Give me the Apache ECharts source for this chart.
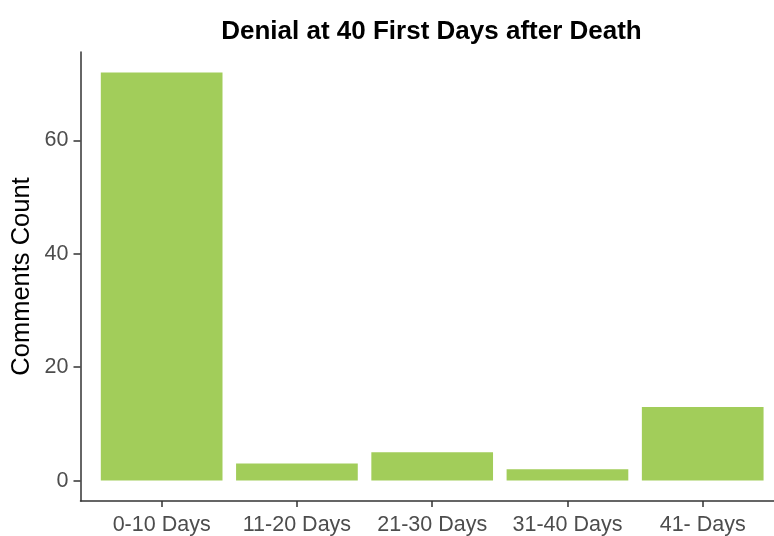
<!DOCTYPE html>
<html>
<head>
<meta charset="utf-8">
<script src="https://cdn.jsdelivr.net/npm/echarts@6/dist/echarts.min.js"></script>
<style>
  html, body { margin: 0; padding: 0; background: #fff; }
  #chart { width: 774px; height: 536px; }
</style>
</head>
<body>
<div id="chart"></div>
<script>
const categories = ['0-10 Days', '11-20 Days', '21-30 Days', '31-40 Days', '41- Days'];
const counts = [72, 3, 5, 2, 13];
const yTicks = [0, 20, 40, 60];

const chart = echarts.init(document.getElementById('chart'));

// x is a value axis so the ggplot-style 0.6 padding on the left can be kept;
// the panel runs past the right edge of the picture, so max is cut at the edge
const xIdx = categories.map((_, i) => i);

const option = {
  animation: false,
  title: {
    text: 'Denial at 40 First Days after Death',
    left: 426.5,
    top: 14,
    textAlign: 'center',
    textStyle: {
      fontFamily: 'Liberation Sans',
      fontWeight: 'bold',
      fontSize: 26,
      color: '#000',
    },
  },
  grid: {
    left: 80.5,
    right: 0,
    top: 52,
    bottom: 34.5,
  },
  xAxis: {
    type: 'value',
    min: -0.6,
    max: 4.527,
    splitLine: { show: false },
    axisLine: { show: true, onZero: false, lineStyle: { color: '#333', width: 1.5 } },
    axisTick: {
      show: true,
      length: 6,
      customValues: xIdx,
      lineStyle: { color: '#333', width: 1.5 },
    },
    axisLabel: {
      customValues: xIdx,
      formatter: (v) => categories[v],
      margin: 13,
      fontFamily: 'Liberation Sans',
      fontSize: 21.5,
      color: '#4D4D4D',
    },
  },
  yAxis: {
    type: 'value',
    min: -3.6,
    max: 75.6,
    name: 'Comments Count',
    nameLocation: 'middle',
    nameGap: 46,
    nameMoveOverlap: false,
    nameTextStyle: {
      fontFamily: 'Liberation Sans',
      fontSize: 25.5,
      color: '#000',
    },
    splitLine: { show: false },
    axisLine: { show: true, onZero: false, lineStyle: { color: '#333', width: 1.5 } },
    axisTick: {
      show: true,
      length: 7,
      customValues: yTicks,
      lineStyle: { color: '#333', width: 1.5 },
    },
    axisLabel: {
      customValues: yTicks,
      margin: 12,
      fontFamily: 'Liberation Sans',
      fontSize: 21.5,
      color: '#4D4D4D',
    },
  },
  series: [
    {
      type: 'bar',
      data: counts.map((c, i) => [i, c]),
      barWidth: 121.7,
      itemStyle: { color: '#A2CD5A' },
    },
  ],
};

chart.setOption(option);
</script>
</body>
</html>
